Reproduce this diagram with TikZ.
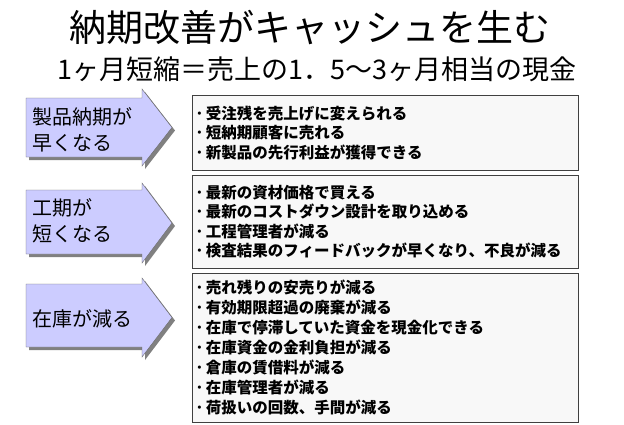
\documentclass[tikz,border=0pt]{standalone}
\usepackage{fontspec}
\setmainfont{Noto Sans CJK JP}
\usepackage{xcolor}
\usepackage{tikz}
\usetikzlibrary{shadows, positioning}

\definecolor{arrowlav}{RGB}{204,204,255}
\definecolor{boxgray}{RGB}{248,248,248}
\newcommand{\bul}{･\hspace{2.5pt}}

\begin{document}
\begin{tikzpicture}[
        x=1pt, y=-1pt,
        arrowshape/.style={draw=black!60, fill=arrowlav,
                    drop shadow={shadow xshift=3pt, shadow yshift=-3pt, fill=black!50, opacity=1}},
        arrowtext/.style={anchor=west, align=left, inner sep=0pt,
                    font=\fontsize{20pt}{26pt}\selectfont},
        listbox/.style={draw=black!75, fill=boxgray, anchor=north west, text width=379pt,
                    inner xsep=3.5pt, inner ysep=0pt, align=left,
                    font=\fontsize{15.5pt}{19.5pt}\selectfont\bfseries},
        titlebox/.style={inner sep=0pt}
    ]
        \useasboundingbox (0,0) rectangle (624,424);
        % title
        \node[titlebox, font=\fontsize{37pt}{40pt}\selectfont] (title) at (310,28)
            {納期改善がキャッシュを生む};
        \node[titlebox, font=\fontsize{27pt}{30pt}\selectfont] (subtitle) at (317,69)
            {1ヶ月短縮＝売上の1．5～3ヶ月相当の現金};

        % arrows on the left
        \draw[arrowshape] (26,98) -- (142,98) -- (142,89) -- (172,127.5)
            -- (142,166) -- (142,157) -- (26,157) -- cycle;
        \draw[arrowshape] (26,190) -- (142,190) -- (142,183) -- (172,223)
            -- (142,263) -- (142,254) -- (26,254) -- cycle;
        \draw[arrowshape] (26,284) -- (142,284) -- (142,278) -- (172,317.5)
            -- (142,357) -- (142,347) -- (26,347) -- cycle;

        \node[arrowtext] (delivery) at (32,130) {製品納期が\\早くなる};
        \node[arrowtext] (leadtime) at (32,221) {工期が\\短くなる};
        \node[arrowtext] (stock) at (32,319) {在庫が減る};

        % lists on the right
        \node[listbox, minimum height=75pt] (salesbox) at (192,95) {%
            \bul 受注残を売上げに変えられる\\
            \bul 短納期顧客に売れる\\
            \bul 新製品の先行利益が獲得できる};
        \node[listbox, minimum height=93pt] (costbox) at (192,175) {%
            \bul 最新の資材価格で買える\\
            \bul 最新のコストダウン設計を取り込める\\
            \bul 工程管理者が減る\\
            \bul 検査結果のフィードバックが早くなり、不良が減る};
        \node[listbox, minimum height=149pt,
              font=\fontsize{15.5pt}{20pt}\selectfont\bfseries] (stockbox) at (192,273) {%
            \bul 売れ残りの安売りが減る\\
            \bul 有効期限超過の廃棄が減る\\
            \bul 在庫で停滞していた資金を現金化できる\\
            \bul 在庫資金の金利負担が減る\\
            \bul 倉庫の賃借料が減る\\
            \bul 在庫管理者が減る\\
            \bul 荷扱いの回数、手間が減る};
    \end{tikzpicture}
\end{document}
